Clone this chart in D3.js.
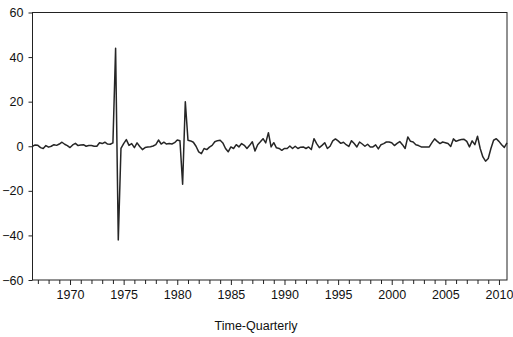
<!DOCTYPE html>
<html>
<head>
<meta charset="utf-8">
<script src="https://cdn.jsdelivr.net/npm/d3@7/dist/d3.min.js"></script>
<style>
  html, body { margin: 0; padding: 0; background: #fff; }
  svg { display: block; }
  text { font-family: "Liberation Sans", Arial, Helvetica, sans-serif; fill: #111; }
</style>
</head>
<body>
<svg id="chart" width="513" height="337"></svg>
<script>
// Quarterly series, first observation 1966Q3
const startYear = 1966;
const startQuarter = 3;

// 1966Q3 - 1974Q3
const values1966 = [0, 0.6, 0.4, -0.6, -1.0, 0.3, -0.4, 0, 0.7, 0.4,
  1.0, 1.8, 0.9, 0.3, -0.6, 0.6, 1.3, 0.3, 0.6, 0.7,
  0, 0.3, 0.3, 0, 0, 1.6, 1.2, 1.8, 1.0, 0.9,
  1.5, 44, -42];
// 1974Q4 - 1983Q2
const values1974 = [-1.0, 1.2, 3.0, 0.4, 1.2, -0.6, 1.5, -0.1, -1.5, -0.6,
  -0.3, -0.2, 0.1, 0.7, 2.8, 1.0, 1.8, 1.0, 1.2, 1.0,
  1.6, 2.8, 2.5, -17, 20, 2.7, 2.4, 1.8, 0, -2.5,
  -3.3, -1.0, -1.5, -0.4, 0.4];
// 1983Q3 - 1992Q2
const values1983 = [2.0, 2.5, 2.7, 1.5, -1.0, -2.5, -0.3, -1.0, 0.7, -0.3,
  1.2, 0.4, -1.0, 0.4, 2.0, -2.1, 0.7, 2.0, 3.4, 1.5,
  6.1, -0.3, 1.6, -0.7, -1.0, -1.8, -1.0, -1.0, 0.1, -1.0,
  0, -1.0, -0.4, -0.3, -1.0, -0.3];
// 1992Q3 - 2001Q2
const values1992 = [-1.5, 3.4, 1.2, -0.6, 0.4, 1.6, -1.0, 0, 2.4, 3.3,
  2.4, 1.3, 1.8, 0.7, -0.1, 2.5, 1.2, -0.3, 1.9, 1.0,
  0, 0.9, -0.3, -0.3, 0.6, -1.2, 0.7, 1.2, 1.9, 1.9,
  1.6, 0.3, 1.3, 2.1, 0.7, -1.0];
// 2001Q3 - 2010Q4
const values2001 = [4.2, 2.2, 1.9, 0.7, 0.3, -0.3, -0.3, -0.3, -0.3, 1.6,
  3.3, 2.2, 1.2, 1.9, 1.6, 1.2, -0.1, 3.3, 2.2, 2.7,
  3.0, 3.1, 2.2, -0.3, 2.4, 0.7, 4.5, -1.0, -4.8, -6.7,
  -5.5, -1.0, 2.7, 3.4, 2.2, 0.7, -0.5, 1.5];

const yTicks = [-60, -40, -20, 0, 20, 40, 60];
const xLabelYears = [1970, 1975, 1980, 1985, 1990, 1995, 2000, 2005, 2010];
const xMinorYears = d3.range(1967, 2011);
const xTitle = "Time-Quarterly";

const values = [].concat(values1966, values1974, values1983, values1992, values2001);
const series = values.map((v, i) => ({
  t: startYear + (startQuarter - 1) / 4 + i / 4,
  v: v
}));

const margin = { left: 32.5, right: 6, top: 12.5, bottom: 57 };
const W = 513, H = 337;
const svg = d3.select("#chart");

const x = d3.scaleLinear()
  .domain([series[0].t, series[series.length - 1].t])
  .range([margin.left, W - margin.right]);
const y = d3.scaleLinear()
  .domain([-60, 60])
  .range([H - margin.bottom, margin.top]);

const x0 = x.range()[0], x1 = x.range()[1];
const yb = y.range()[0], yt = y.range()[1];

// minor year ticks
const minorAxis = d3.axisBottom(x)
  .tickValues(xMinorYears.filter(d => xLabelYears.indexOf(d) < 0))
  .tickSize(4)
  .tickFormat("");
svg.append("g")
  .attr("transform", `translate(0,${yb})`)
  .call(minorAxis)
  .call(g => g.select(".domain").remove())
  .call(g => g.selectAll("line").attr("stroke", "#222"));

// labelled five-year ticks
const xAxis = d3.axisBottom(x)
  .tickValues(xLabelYears)
  .tickSize(5)
  .tickPadding(5)
  .tickFormat(d3.format("d"));
svg.append("g")
  .attr("transform", `translate(0,${yb})`)
  .call(xAxis)
  .call(g => g.select(".domain").remove())
  .call(g => g.selectAll("line").attr("stroke", "#222"))
  .call(g => g.selectAll("text").attr("font-size", 12.5).attr("fill", "#111")
    .attr("font-family", "Liberation Sans, Arial, sans-serif"));

const yAxis = d3.axisLeft(y)
  .tickValues(yTicks)
  .tickSize(4)
  .tickPadding(5)
  .tickFormat(d3.format("d"));
svg.append("g")
  .attr("transform", `translate(${x0},0)`)
  .call(yAxis)
  .call(g => g.select(".domain").remove())
  .call(g => g.selectAll("line").attr("stroke", "#222"))
  .call(g => g.selectAll("text").attr("font-size", 12.5).attr("fill", "#111")
    .attr("font-family", "Liberation Sans, Arial, sans-serif"));

// series line
const line = d3.line()
  .x(d => x(d.t))
  .y(d => y(d.v));
svg.append("path")
  .datum(series)
  .attr("fill", "none")
  .attr("stroke", "#262626")
  .attr("stroke-width", 1.5)
  .attr("stroke-linejoin", "round")
  .attr("d", line);

// plot frame
svg.append("rect")
  .attr("x", x0)
  .attr("y", yt)
  .attr("width", x1 - x0)
  .attr("height", yb - yt)
  .attr("fill", "none")
  .attr("stroke", "#222")
  .attr("stroke-width", 1);

svg.append("text")
  .attr("x", 256)
  .attr("y", 330)
  .attr("text-anchor", "middle")
  .attr("font-size", 12.5)
  .text(xTitle);
</script>
</body>
</html>
